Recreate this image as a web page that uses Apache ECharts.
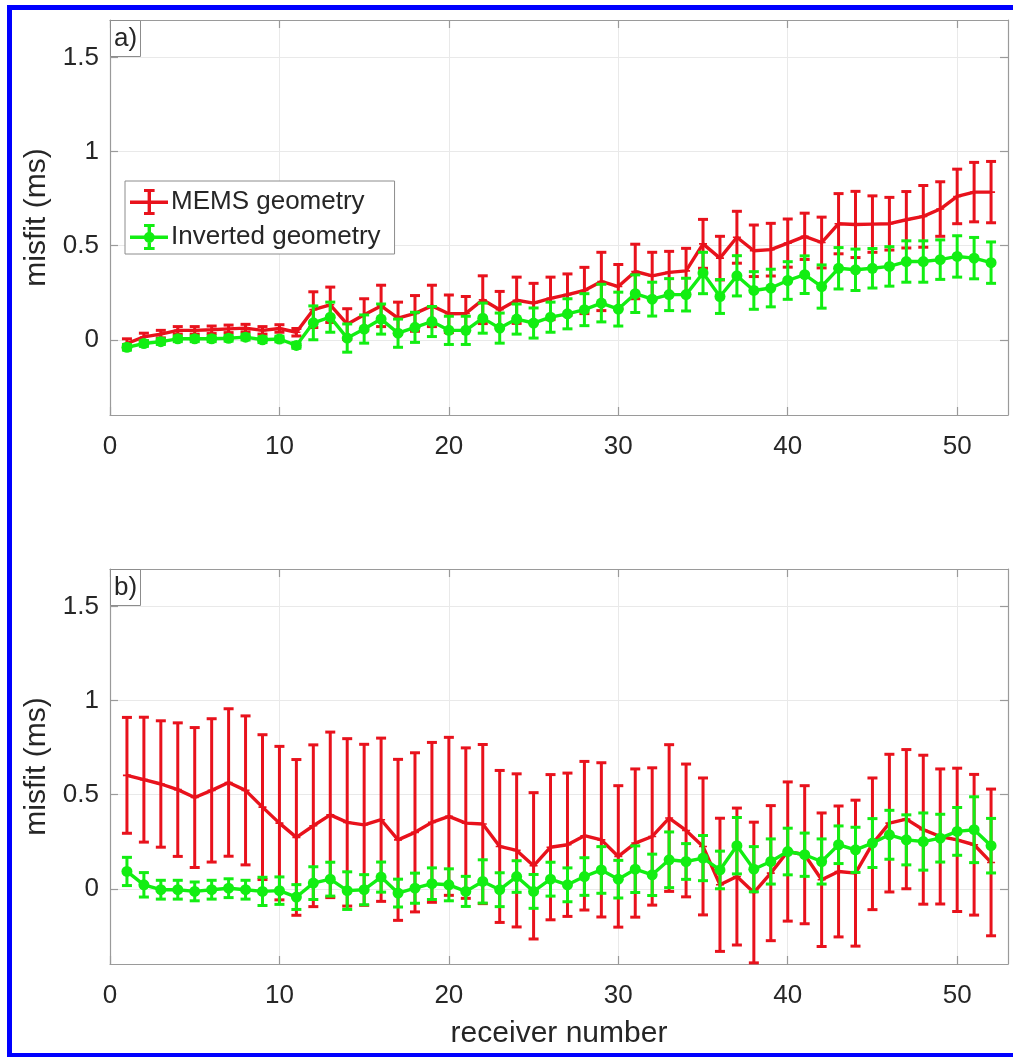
<!DOCTYPE html>
<html>
<head>
<meta charset="utf-8">
<script src="https://cdn.jsdelivr.net/npm/echarts@6/dist/echarts.min.js"></script>
<style>
html,body{margin:0;padding:0;background:#fff;}
#chart{width:1013px;height:1057px;}
</style>
</head>
<body>
<div id="chart"></div>
<script>
const receivers = [1,2,3,4,5,6,7,8,9,10,11,12,13,14,15,16,17,18,19,20,21,22,23,24,25,26,27,28,29,30,31,32,33,34,35,36,37,38,39,40,41,42,43,44,45,46,47,48,49,50,51,52];
const xTicks = [0,10,20,30,40,50];
const yTicks = [0,0.5,1,1.5];
const seriesNames = ['MEMS geometry','Inverted geometry'];
const panelLabels = ['a)','b)'];

// panel a
const memsA = [-0.02,0.015,0.03,0.05,0.05,0.053,0.058,0.062,0.05,0.06,0.04,0.16,0.186,0.083,0.133,0.18,0.115,0.14,0.18,0.138,0.14,0.213,0.16,0.21,0.195,0.22,0.24,0.262,0.31,0.283,0.363,0.34,0.358,0.366,0.51,0.434,0.545,0.473,0.479,0.514,0.55,0.517,0.617,0.613,0.615,0.617,0.638,0.656,0.695,0.762,0.785,0.785];
const memsAErr = [0.025,0.02,0.02,0.02,0.02,0.02,0.02,0.02,0.02,0.02,0.02,0.095,0.094,0.082,0.085,0.11,0.085,0.095,0.11,0.10,0.09,0.127,0.097,0.123,0.105,0.113,0.11,0.123,0.155,0.117,0.145,0.125,0.112,0.12,0.13,0.116,0.138,0.137,0.14,0.128,0.123,0.135,0.16,0.176,0.15,0.14,0.15,0.164,0.145,0.145,0.158,0.163];
const invA = [-0.04,-0.02,-0.01,0.005,0.005,0.005,0.008,0.014,0.0,0.004,-0.03,0.09,0.12,0.009,0.057,0.11,0.035,0.066,0.097,0.05,0.05,0.115,0.062,0.11,0.089,0.12,0.138,0.16,0.195,0.163,0.245,0.216,0.24,0.24,0.355,0.23,0.34,0.262,0.275,0.315,0.346,0.283,0.38,0.372,0.38,0.39,0.416,0.416,0.426,0.443,0.434,0.41];
const invAErr = [0.015,0.015,0.015,0.015,0.015,0.015,0.015,0.015,0.015,0.015,0.015,0.09,0.08,0.075,0.075,0.08,0.075,0.08,0.08,0.075,0.075,0.08,0.08,0.08,0.08,0.08,0.08,0.085,0.1,0.09,0.1,0.09,0.085,0.087,0.11,0.09,0.107,0.1,0.1,0.1,0.1,0.115,0.11,0.11,0.105,0.105,0.11,0.11,0.105,0.11,0.11,0.11];

// panel b
const memsB = [0.603,0.58,0.557,0.527,0.485,0.523,0.565,0.523,0.434,0.349,0.273,0.335,0.393,0.353,0.34,0.367,0.26,0.3,0.353,0.385,0.349,0.344,0.225,0.204,0.122,0.221,0.234,0.282,0.26,0.172,0.243,0.278,0.376,0.31,0.225,0.021,0.065,-0.02,0.083,0.198,0.181,0.048,0.092,0.083,0.239,0.349,0.37,0.314,0.278,0.26,0.234,0.14];
const memsBErr = [0.308,0.332,0.336,0.355,0.372,0.381,0.392,0.396,0.385,0.408,0.414,0.43,0.44,0.445,0.428,0.434,0.428,0.423,0.425,0.42,0.40,0.423,0.404,0.407,0.389,0.386,0.381,0.395,0.41,0.376,0.394,0.365,0.39,0.353,0.364,0.354,0.364,0.374,0.359,0.37,0.367,0.355,0.348,0.388,0.35,0.366,0.37,0.396,0.359,0.381,0.374,0.39];
const invB = [0.092,0.021,-0.005,-0.005,-0.014,-0.005,0.003,-0.005,-0.014,-0.01,-0.044,0.03,0.051,-0.01,-0.005,0.062,-0.023,0.003,0.027,0.021,-0.014,0.039,-0.005,0.065,-0.014,0.051,0.021,0.065,0.1,0.051,0.104,0.074,0.154,0.145,0.163,0.1,0.229,0.104,0.145,0.198,0.181,0.145,0.234,0.207,0.243,0.287,0.26,0.251,0.269,0.305,0.314,0.229];
const invBErr = [0.075,0.065,0.05,0.05,0.05,0.05,0.05,0.05,0.075,0.073,0.066,0.087,0.09,0.1,0.08,0.08,0.074,0.08,0.084,0.085,0.08,0.115,0.09,0.084,0.09,0.09,0.09,0.1,0.124,0.1,0.124,0.11,0.148,0.095,0.12,0.1,0.15,0.12,0.12,0.124,0.115,0.12,0.1,0.12,0.13,0.13,0.133,0.152,0.127,0.127,0.175,0.145];

const RED = '#e8121c';
const GREEN = '#12ee12';
const AXIS = '#9a9a9a';
const LABEL = '#262626';
const GRIDC = '#e9e9e9';
const FONT = 'Liberation Sans, Arial, sans-serif';
const Y_MIN = -0.4, Y_MAX = 1.7, X_MIN = 0, X_MAX = 53;

const plusPath = 'path://M4,0h2v4h4v2h-4v4h-2v-4h-4v-2h4z';
const redIcon = 'path://M0,11.5H38V15H0Z M17.6,1H21V25H17.6Z M14,0H24.6V3H14Z M14,23H24.6V26H14Z';
const greenIcon = 'path://M0,11.5H38V15H0Z M17.6,1H21V25H17.6Z M14,0H24.6V3H14Z M14,23H24.6V26H14Z M24.8,13.3A5.5,5.5 0 1,1 13.8,13.3A5.5,5.5 0 1,1 24.8,13.3Z';

function pairs(vals) { return receivers.map((r, i) => [r, vals[i]]); }
function errData(vals, errs) { return receivers.map((r, i) => [r, vals[i] - errs[i], vals[i] + errs[i]]); }

function errRender(color) {
  return function (params, api) {
    const x = api.value(0), lo = api.value(1), hi = api.value(2);
    const loC = Math.max(lo, Y_MIN), hiC = Math.min(hi, Y_MAX);
    const p1 = api.coord([x, loC]), p2 = api.coord([x, hiC]);
    const cap = 5;
    const st = { stroke: color, lineWidth: 3 };
    const children = [{ type: 'line', shape: { x1: p1[0], y1: p1[1], x2: p2[0], y2: p2[1] }, style: st }];
    if (lo >= Y_MIN) children.push({ type: 'line', shape: { x1: p1[0] - cap, y1: p1[1], x2: p1[0] + cap, y2: p1[1] }, style: st });
    if (hi <= Y_MAX) children.push({ type: 'line', shape: { x1: p2[0] - cap, y1: p2[1], x2: p2[0] + cap, y2: p2[1] }, style: st });
    return { type: 'group', children: children };
  };
}

function xAxes(gi, withName) {
  return [
    {
      gridIndex: gi, type: 'value', min: X_MIN, max: X_MAX, position: 'bottom',
      name: withName ? 'receiver number' : '', nameLocation: 'middle', nameGap: 55,
      nameTextStyle: { fontSize: 30, color: LABEL, fontFamily: FONT },
      axisLine: { show: true, onZero: false, lineStyle: { color: AXIS, width: 1.2 } },
      axisTick: { show: true, inside: true, length: 8, customValues: xTicks, lineStyle: { color: AXIS, width: 1.2 } },
      axisLabel: { customValues: xTicks, fontSize: 26, color: LABEL, margin: 19, fontFamily: FONT },
      splitLine: { show: true, lineStyle: { color: GRIDC, width: 1 } }
    },
    {
      gridIndex: gi, type: 'value', min: X_MIN, max: X_MAX, position: 'top',
      axisLine: { show: true, onZero: false, lineStyle: { color: AXIS, width: 1.2 } },
      axisTick: { show: true, inside: true, length: 8, customValues: xTicks, lineStyle: { color: AXIS, width: 1.2 } },
      axisLabel: { show: false },
      splitLine: { show: false }
    }
  ];
}
function yAxes(gi) {
  return [
    {
      gridIndex: gi, type: 'value', min: Y_MIN, max: Y_MAX, position: 'left',
      name: 'misfit (ms)', nameLocation: 'middle', nameGap: 56,
      nameTextStyle: { fontSize: 30, color: LABEL, fontFamily: FONT },
      axisLine: { show: true, onZero: false, lineStyle: { color: AXIS, width: 1.2 } },
      axisTick: { show: true, inside: true, length: 8, customValues: yTicks, lineStyle: { color: AXIS, width: 1.2 } },
      axisLabel: { customValues: yTicks, fontSize: 26, color: LABEL, margin: 11, fontFamily: FONT },
      splitLine: { show: true, lineStyle: { color: GRIDC, width: 1 } }
    },
    {
      gridIndex: gi, type: 'value', min: Y_MIN, max: Y_MAX, position: 'right',
      axisLine: { show: true, onZero: false, lineStyle: { color: AXIS, width: 1.2 } },
      axisTick: { show: true, inside: true, length: 8, customValues: yTicks, lineStyle: { color: AXIS, width: 1.2 } },
      axisLabel: { show: false },
      splitLine: { show: false }
    }
  ];
}

function panelSeries(gi, mems, memsErr, inv, invErr, legendNames) {
  const xi = gi * 2, yi = gi * 2;
  return [
    { type: 'custom', name: legendNames[0] + ' err' + gi, xAxisIndex: xi, yAxisIndex: yi, renderItem: errRender(RED),
      data: errData(mems, memsErr), encode: { x: 0, y: [1, 2] }, silent: true, z: 2 },
    { type: 'line', name: gi === 0 ? legendNames[0] : legendNames[0] + ' ' + gi, xAxisIndex: xi, yAxisIndex: yi,
      data: pairs(mems), symbol: plusPath, symbolSize: 8, itemStyle: { color: RED },
      lineStyle: { color: RED, width: 3.4 }, z: 3 },
    { type: 'custom', name: legendNames[1] + ' err' + gi, xAxisIndex: xi, yAxisIndex: yi, renderItem: errRender(GREEN),
      data: errData(inv, invErr), encode: { x: 0, y: [1, 2] }, silent: true, z: 4 },
    { type: 'line', name: gi === 0 ? legendNames[1] : legendNames[1] + ' ' + gi, xAxisIndex: xi, yAxisIndex: yi,
      data: pairs(inv), symbol: 'circle', symbolSize: 11, itemStyle: { color: GREEN, borderWidth: 0 },
      lineStyle: { color: GREEN, width: 3.4 }, z: 5 }
  ];
}

const chart = echarts.init(document.getElementById('chart'), null, { renderer: 'canvas' });
const option = {
  animation: false,
  backgroundColor: '#fff',
  textStyle: { fontFamily: FONT },
  grid: [
    { left: 110, top: 20, width: 898, height: 395 },
    { left: 110, top: 569, width: 898, height: 395 }
  ],
  title: [
    { text: panelLabels[0], left: 110, top: 20, padding: [3, 4, 3, 4], borderColor: '#8c8c8c', borderWidth: 1,
      backgroundColor: '#fff', textStyle: { fontSize: 26, fontWeight: 'normal', color: LABEL, fontFamily: FONT, lineHeight: 31 }, z: 10 },
    { text: panelLabels[1], left: 110, top: 569, padding: [3, 4, 3, 4], borderColor: '#8c8c8c', borderWidth: 1,
      backgroundColor: '#fff', textStyle: { fontSize: 26, fontWeight: 'normal', color: LABEL, fontFamily: FONT, lineHeight: 31 }, z: 10 }
  ],
  legend: {
    orient: 'vertical', left: 125, top: 181,
    data: [{ name: seriesNames[0], icon: redIcon }, { name: seriesNames[1], icon: greenIcon }],
    itemWidth: 38, itemHeight: 26, itemGap: 9,
    padding: [8, 14, 4, 5],
    borderColor: '#8c8c8c', borderWidth: 1, backgroundColor: '#fff',
    textStyle: { fontSize: 26, color: LABEL, fontFamily: FONT, padding: [0, 0, 0, -2] },
    selectedMode: false, z: 10
  },
  xAxis: xAxes(0, false).concat(xAxes(1, true)),
  yAxis: yAxes(0).concat(yAxes(1)),
  series: panelSeries(0, memsA, memsAErr, invA, invAErr, seriesNames)
    .concat(panelSeries(1, memsB, memsBErr, invB, invBErr, seriesNames)),
  graphic: [
    { type: 'rect', shape: { x: 7, y: 5, width: 5, height: 1052 }, style: { fill: '#0000ff' }, z: 100 },
    { type: 'rect', shape: { x: 7, y: 5, width: 1006, height: 5 }, style: { fill: '#0000ff' }, z: 100 },
    { type: 'rect', shape: { x: 7, y: 1053, width: 1006, height: 5 }, style: { fill: '#0000ff' }, z: 100 }
  ]
};
chart.setOption(option);
</script>
</body>
</html>
